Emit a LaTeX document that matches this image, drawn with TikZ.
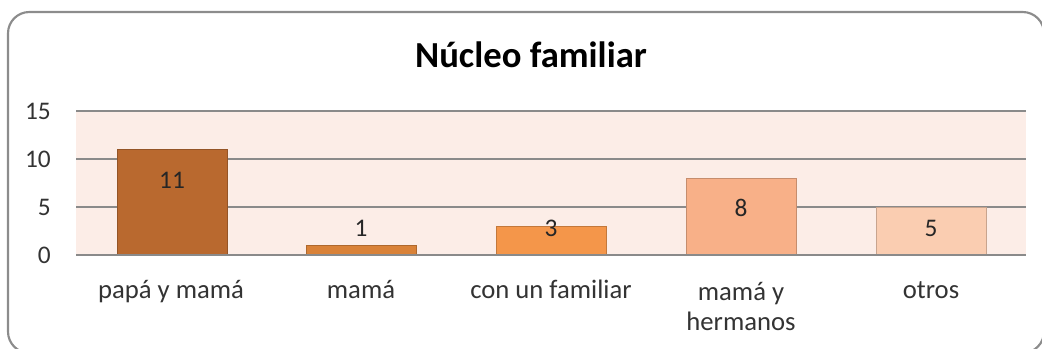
\documentclass[tikz,border=0pt]{standalone}
\usepackage{fontspec}
\setmainfont{Carlito}
\usetikzlibrary{positioning}

\definecolor{frameGray}{HTML}{8C8C8C}
\definecolor{gridGray}{HTML}{8A8A8A}
\definecolor{plotBg}{HTML}{FCEDE7}
\definecolor{barA}{HTML}{B9692F}
\definecolor{barB}{HTML}{D98238}
\definecolor{barC}{HTML}{F4964A}
\definecolor{barD}{HTML}{F8B088}
\definecolor{barE}{HTML}{FACDB1}
\definecolor{textGray}{HTML}{333333}

\tikzset{
  barbox/.style={draw=#1!80!black, line width=0.6pt, fill=#1},
  axislabel/.style={anchor=east, text=textGray, font=\fontsize{19}{22}\selectfont, inner sep=0pt},
  valuelabel/.style={text=black!85, font=\fontsize{19}{22}\selectfont, inner sep=0pt},
  catlabel/.style={anchor=base, text=textGray, font=\fontsize{20}{22.5}\selectfont, align=center, inner sep=0pt},
}

\begin{document}
\begin{tikzpicture}[x=0.75pt,y=-0.75pt]

\useasboundingbox (0,0) rectangle (1042,349);
\clip (0,0) rectangle (1042,349);

\draw[frameGray, line width=1.6pt, rounded corners=16pt, fill=white] (8,12) rectangle (1044,353);

\node[anchor=base, font=\bfseries\fontsize{27.5}{32}\selectfont, inner sep=0pt] (title) at (531,68) {Núcleo familiar};

\fill[plotBg] (76,111) rectangle (1026,255);

\draw[gridGray, line width=0.8pt] (76,111) coordinate (g15) -- (1026,111);
\draw[gridGray, line width=0.8pt] (76,159) coordinate (g10) -- (1026,159);
\draw[gridGray, line width=0.8pt] (76,207) coordinate (g5) -- (1026,207);

\node[axislabel] (y15) at (51,111) {15};
\node[axislabel] (y10) at (51,159) {10};
\node[axislabel] (y5) at (51,207) {5};
\node[axislabel] (y0) at (51,255) {0};

\draw[barbox=barA] (117,255) rectangle (227,149.4);
\draw[barbox=barB] (306,255) rectangle (416,245.4);
\draw[barbox=barC] (496,255) rectangle (606,226.2);
\draw[barbox=barD] (686,255) rectangle (796,178.2);
\draw[barbox=barE] (876,255) rectangle (986,207);

\draw[gridGray, line width=0.8pt] (76,255) coordinate (g0) -- (1026,255);

\node[valuelabel] (v1) at (172,180) {11};
\node[valuelabel] (v2) at (361,228) {1};
\node[valuelabel] (v3) at (551,228) {3};
\node[valuelabel] (v4) at (741,208) {8};
\node[valuelabel] (v5) at (931,228) {5};

\node[catlabel] (c1) at (171,298) {papá y mamá};
\node[catlabel] (c2) at (361,298) {mamá};
\node[catlabel] (c3) at (551,298) {con un familiar};
\node[catlabel] (c4) at (741,330) {mamá y\\hermanos};
\node[catlabel] (c5) at (931,298) {otros};

\end{tikzpicture}
\end{document}
